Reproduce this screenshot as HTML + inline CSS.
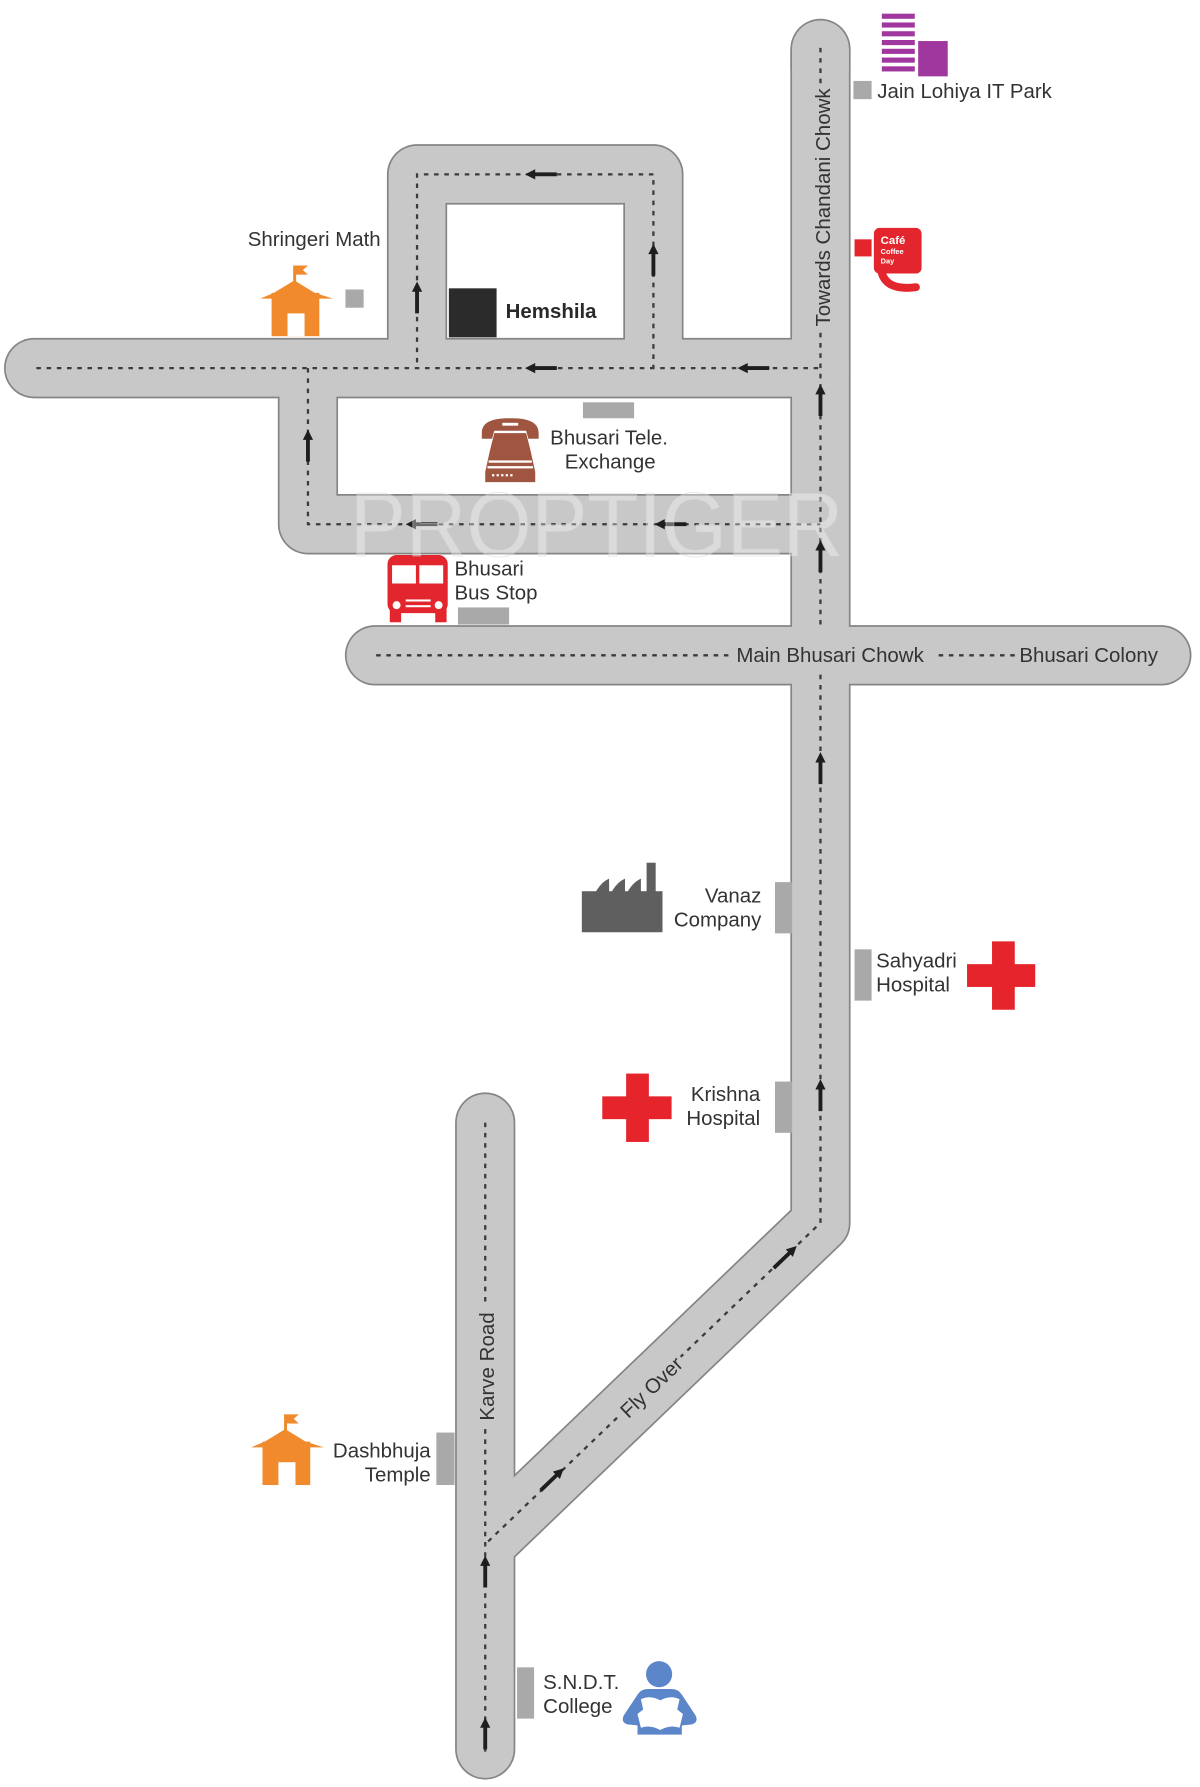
<!DOCTYPE html>
<html>
<head>
<meta charset="utf-8">
<style>
html,body{margin:0;padding:0;background:#fff;}
svg{display:block;}
text{font-family:"Liberation Sans",Arial,sans-serif;}
</style>
</head>
<body>
<svg xmlns="http://www.w3.org/2000/svg" xmlns:xlink="http://www.w3.org/1999/xlink" width="1200" height="1787" viewBox="0 0 1056 1568" preserveAspectRatio="none">
<defs>
  <path id="r1" d="M30 323 H722" stroke-linecap="round"/>
  <path id="r2" d="M367 330 V153 H575 V330"/>
  <path id="r3a" d="M722 43 V60" stroke-linecap="round"/>
  <path id="r3" d="M722 43 V1073 L427 1355"/>
  <path id="r4" d="M271 316 V460 H730"/>
  <path id="r5" d="M330 575 H1022" stroke-linecap="round"/>
  <path id="r6" d="M427 985 V1535" stroke-linecap="round"/>
  <path id="arr" d="M-1.7,14 H1.7 V-5 H4.5 L0,-14 L-4.5,-5 H-1.7 Z" fill="#1e1e1e"/>
</defs>
<rect width="1056" height="1568" fill="#fff"/>

<!-- Roads -->
<g fill="none" stroke-linejoin="round">
  <g stroke="#858585" stroke-width="53">
    <use href="#r1" xlink:href="#r1"/>
    <use href="#r2" xlink:href="#r2"/>
    <use href="#r3a" xlink:href="#r3a"/>
    <use href="#r3" xlink:href="#r3"/>
    <use href="#r4" xlink:href="#r4"/>
    <use href="#r5" xlink:href="#r5"/>
    <use href="#r6" xlink:href="#r6"/>
  </g>
  <g stroke="#c8c8c9" stroke-width="50">
    <use href="#r1" xlink:href="#r1"/>
    <use href="#r2" xlink:href="#r2"/>
    <use href="#r3a" xlink:href="#r3a"/>
    <use href="#r3" xlink:href="#r3"/>
    <use href="#r4" xlink:href="#r4"/>
    <use href="#r5" xlink:href="#r5"/>
    <use href="#r6" xlink:href="#r6"/>
  </g>
</g>

<!-- Dashed center lines -->
<g fill="none" stroke="#3b3b3b" stroke-width="2" stroke-dasharray="4 5">
  <path d="M32 323 H722"/>
  <path d="M367 318 V153 H575 V323"/>
  <path d="M722 42 V74"/>
  <path d="M722 292 V550"/>
  <path d="M722 592 V1073 L599 1190.5"/>
  <path d="M543 1244 L427 1355"/>
  <path d="M271 323 V460 H722"/>
  <path d="M331 575 H641"/>
  <path d="M826 575 H895"/>
  <path d="M427 985 V1146"/>
  <path d="M427 1254 V1540"/>
</g>

<!-- Arrows -->
<g>
  <use href="#arr" xlink:href="#arr" transform="translate(476,153) rotate(-90)"/>
  <use href="#arr" xlink:href="#arr" transform="translate(575,228)"/>
  <use href="#arr" xlink:href="#arr" transform="translate(367,261)"/>
  <use href="#arr" xlink:href="#arr" transform="translate(476,323) rotate(-90)"/>
  <use href="#arr" xlink:href="#arr" transform="translate(663,323) rotate(-90)"/>
  <use href="#arr" xlink:href="#arr" transform="translate(722,351)"/>
  <use href="#arr" xlink:href="#arr" transform="translate(722,488)"/>
  <use href="#arr" xlink:href="#arr" transform="translate(722,674)"/>
  <use href="#arr" xlink:href="#arr" transform="translate(722,961)"/>
  <use href="#arr" xlink:href="#arr" transform="translate(271,391)"/>
  <use href="#arr" xlink:href="#arr" transform="translate(371,460) rotate(-90)"/>
  <use href="#arr" xlink:href="#arr" transform="translate(590,460) rotate(-90)"/>
  <use href="#arr" xlink:href="#arr" transform="translate(691,1103) rotate(46.3)"/>
  <use href="#arr" xlink:href="#arr" transform="translate(486,1298) rotate(46.3)"/>
  <use href="#arr" xlink:href="#arr" transform="translate(427,1379)"/>
  <use href="#arr" xlink:href="#arr" transform="translate(427,1521)"/>
</g>

<!-- Road labels -->
<g fill="#333" font-size="18">
  <text transform="translate(724,182) rotate(-90)" y="6.5" text-anchor="middle">Towards Chandani Chowk</text>
  <text x="648" y="581">Main Bhusari Chowk</text>
  <text x="897" y="581">Bhusari Colony</text>
  <text transform="translate(428,1199) rotate(-90)" y="6.5" text-anchor="middle">Karve Road</text>
  <text transform="translate(573,1217) rotate(-43.7)" y="6.5" text-anchor="middle">Fly Over</text>
</g>

<!-- Gray markers -->
<g fill="#a9a9aa">
  <rect x="304" y="254" width="16" height="16"/>
  <rect x="513" y="353" width="45" height="14"/>
  <rect x="403" y="533" width="45" height="15"/>
  <rect x="751" y="71" width="16" height="16"/>
  <rect x="682" y="774" width="15" height="45"/>
  <rect x="752" y="833" width="15" height="45"/>
  <rect x="682" y="949" width="15" height="45"/>
  <rect x="384" y="1257" width="16" height="46"/>
  <rect x="455" y="1463" width="15" height="45"/>
</g>

<!-- Shringeri temple -->
<g fill="#f08a2c" id="temple">
  <rect x="258" y="233" width="2.6" height="15"/>
  <polygon points="260,233 271,233 266.5,237 271,241 260,241"/>
  <polygon points="229,262 241,257 259,246 277,257 293,262"/>
  <rect x="239" y="257" width="42" height="38"/>
  <rect x="253" y="275" width="15" height="20" fill="#fff"/>
</g>
<g transform="translate(-8,1008)">
  <g fill="#f08a2c">
    <rect x="258" y="233" width="2.6" height="15"/>
    <polygon points="260,233 271,233 266.5,237 271,241 260,241"/>
    <polygon points="229,262 241,257 259,246 277,257 293,262"/>
    <rect x="239" y="257" width="42" height="38"/>
    <rect x="253" y="275" width="15" height="20" fill="#fff"/>
  </g>
</g>

<!-- Hemshila -->
<rect x="395" y="253" width="42" height="43" fill="#2b2b2b"/>
<text x="445" y="279" font-size="18" font-weight="bold" fill="#2a2a2a">Hemshila</text>

<!-- Telephone -->
<g fill="#9f553f">
  <path d="M424 380 C424 369 436 367 449 367 C462 367 474 369 474 380 L474 385 L465 385 L463 378 L435 378 L433 385 L424 385 Z"/>
  <path d="M435 380 L463 380 L467 396 L471 414 L471 423 L427 423 L427 414 L431 396 Z"/>
</g>
<g fill="#fff">
  <rect x="442" y="371" width="14" height="2.5"/>
  <rect x="430" y="404" width="38" height="2"/>
  <rect x="429" y="409" width="40" height="2"/>
  <rect x="433" y="416" width="2" height="2"/>
  <rect x="437" y="416" width="2" height="2"/>
  <rect x="441" y="416" width="2" height="2"/>
  <rect x="445" y="416" width="2" height="2"/>
  <rect x="449" y="416" width="2" height="2"/>
</g>

<!-- Bus -->
<g fill="#e3262d">
  <rect x="341" y="487" width="53" height="51" rx="8"/>
  <rect x="343" y="530" width="10" height="16"/>
  <rect x="383" y="530" width="10" height="16"/>
</g>
<g fill="#fff">
  <rect x="345" y="496" width="21" height="16"/>
  <rect x="369" y="496" width="21" height="16"/>
  <circle cx="349" cy="531" r="3.5"/>
  <circle cx="386" cy="531" r="3.5"/>
  <rect x="357" y="526" width="22" height="1.8"/>
  <rect x="357" y="531" width="22" height="1.8"/>
</g>

<!-- Jain Lohiya IT Park building -->
<g fill="#a0379f">
  <rect x="776" y="12" width="29" height="4.5"/>
  <rect x="776" y="19.7" width="29" height="4.5"/>
  <rect x="776" y="27.4" width="29" height="4.5"/>
  <rect x="776" y="35.1" width="29" height="4.5"/>
  <rect x="776" y="42.8" width="29" height="4.5"/>
  <rect x="776" y="50.5" width="29" height="4.5"/>
  <rect x="776" y="58.2" width="29" height="4.5"/>
  <rect x="808" y="36" width="26" height="31"/>
</g>

<!-- Cafe Coffee Day -->
<rect x="752" y="210" width="15" height="15" fill="#e3262d"/>
<rect x="769" y="200" width="42" height="40" rx="5" fill="#e3262d"/>
<path d="M775 233 Q776 256 806 252" fill="none" stroke="#e3262d" stroke-width="7" stroke-linecap="round"/>
<g fill="#fff" font-weight="bold">
  <text x="775" y="214" font-size="10">Café</text>
  <text x="775" y="223" font-size="6.5">Coffee</text>
  <text x="775" y="231" font-size="6.5">Day</text>
</g>

<!-- Factory -->
<g fill="#5f5f5f">
  <rect x="512" y="782" width="71" height="36"/>
  <rect x="569" y="757" width="8" height="26"/>
  <path d="M524 783 Q529 774 536 771 V783 Z"/>
  <path d="M538 783 Q543 774 550 771 V783 Z"/>
  <path d="M552 783 Q557 774 564 771 V783 Z"/>
</g>

<!-- Red crosses -->
<g fill="#e5242b">
  <rect x="873" y="826" width="20" height="60"/>
  <rect x="851" y="846" width="60" height="20"/>
  <rect x="551" y="942" width="20" height="60"/>
  <rect x="530" y="962" width="61" height="20"/>
</g>

<!-- Reader (SNDT) -->
<g fill="#5b86c9">
  <circle cx="580" cy="1469" r="11.5"/>
  <path d="M570 1482 H591 Q597 1482 600 1487 L612 1505 Q615 1511 609 1513 L600 1514 L600 1522 L561 1522 L561 1514 L552 1513 Q546 1511 549 1505 L561 1487 Q564 1482 570 1482 Z"/>
</g>
<path d="M564 1491 Q572 1487 581 1492 Q590 1487 598 1491 L596 1500 L601 1504 L598 1516 Q590 1513 581 1518 Q572 1513 564 1516 L561 1504 L566 1500 Z" fill="#fff"/>

<!-- Place labels -->
<g fill="#333" font-size="18">
  <text x="218" y="216">Shringeri Math</text>
  <text x="536" y="390" text-anchor="middle">Bhusari Tele.</text>
  <text x="537" y="411" text-anchor="middle">Exchange</text>
  <text x="400" y="505">Bhusari</text>
  <text x="400" y="526">Bus Stop</text>
  <text x="772" y="86">Jain Lohiya IT Park</text>
  <text x="670" y="792" text-anchor="end">Vanaz</text>
  <text x="670" y="813" text-anchor="end">Company</text>
  <text x="771" y="849">Sahyadri</text>
  <text x="771" y="870">Hospital</text>
  <text x="669" y="966" text-anchor="end">Krishna</text>
  <text x="669" y="987" text-anchor="end">Hospital</text>
  <text x="379" y="1279" text-anchor="end">Dashbhuja</text>
  <text x="379" y="1300" text-anchor="end">Temple</text>
  <text x="478" y="1482">S.N.D.T.</text>
  <text x="478" y="1503">College</text>
</g>

<!-- Watermark -->
<text x="308" y="488" font-size="80" textLength="434" lengthAdjust="spacingAndGlyphs" fill="#ffffff" fill-opacity="0.35" stroke="#d4d4d4" stroke-opacity="0.5" stroke-width="0.8">PROPTIGER</text>
</svg>
</body>
</html>
